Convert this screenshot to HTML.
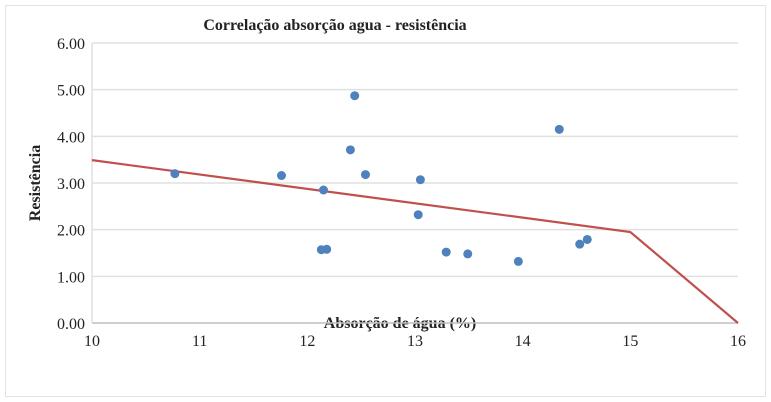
<!DOCTYPE html>
<html><head><meta charset="utf-8"><style>
body{margin:0;background:#fff}
svg{display:block;font-family:"Liberation Serif",serif}
</style></head><body>
<svg id="chart" width="771" height="402" viewBox="0 0 771 402">
<rect x="5.5" y="5.5" width="760" height="391" fill="#fff" stroke="#e3e3e3"/>
<text x="335" y="30" text-anchor="middle" font-size="16" font-weight="bold" fill="#222">Correlação absorção agua - resistência</text>
<text transform="translate(40,183) rotate(-90)" text-anchor="middle" font-size="16" font-weight="bold" fill="#222">Resistência</text>
<text x="400" y="328" text-anchor="middle" font-size="16" font-weight="bold" fill="#222">Absorção de água (%)</text>
<g id="grid"></g><g id="ticks"></g><g id="trend"></g><g id="pts"></g>
</svg>
<script>
const xTicks=[10,11,12,13,14,15,16];
const yTicks=[0,1,2,3,4,5,6];
const absorcao=[10.77,11.76,12.15,12.13,12.18,12.40,12.44,12.54,13.03,13.05,13.29,13.49,13.96,14.34,14.53,14.60];
const resistencia=[3.20,3.16,2.85,1.57,1.58,3.71,4.87,3.18,2.32,3.07,1.52,1.48,1.32,4.15,1.69,1.79];
const lineX=[10,15,16];
const lineY=[3.49,1.95,0];
const NS="http://www.w3.org/2000/svg";
const X=v=>92+(v-10)*(738-92)/6;
const Y=v=>323-v*(323-43)/6;
function mk(t,a,p){const e=document.createElementNS(NS,t);for(const k in a)e.setAttribute(k,a[k]);document.getElementById(p).appendChild(e);return e;}
yTicks.forEach(v=>{
 const g=mk('line',{x1:92,x2:738,y1:Y(v),y2:Y(v),stroke:v===0?'#bfbfbf':'#e0e0e0','stroke-width':1.5},'grid');
 
 
 const t=mk('text',{x:85,y:Y(v)+6,'text-anchor':'end','font-size':16,fill:'#222'},'ticks');
 t.textContent=v.toFixed(2);
 
 
});
const ax=mk('line',{x1:92,x2:92,y1:43,y2:323,stroke:'#e0e0e0','stroke-width':1.5},'grid');


xTicks.forEach(v=>{
 const t=mk('text',{x:X(v),y:346,'text-anchor':'middle','font-size':16,fill:'#222'},'ticks');
 t.textContent=v;
 
 
});
const pl=mk('polyline',{points:lineX.map((x,i)=>X(x)+','+Y(lineY[i])).join(' '),fill:'none',stroke:'#c0504d','stroke-width':2.2},'trend');


absorcao.forEach((x,i)=>{
 const c=mk('circle',{cx:X(x),cy:Y(resistencia[i]),r:4.5,fill:'#4f81bd'},'pts');
 
 
});
</script>
</body></html>
